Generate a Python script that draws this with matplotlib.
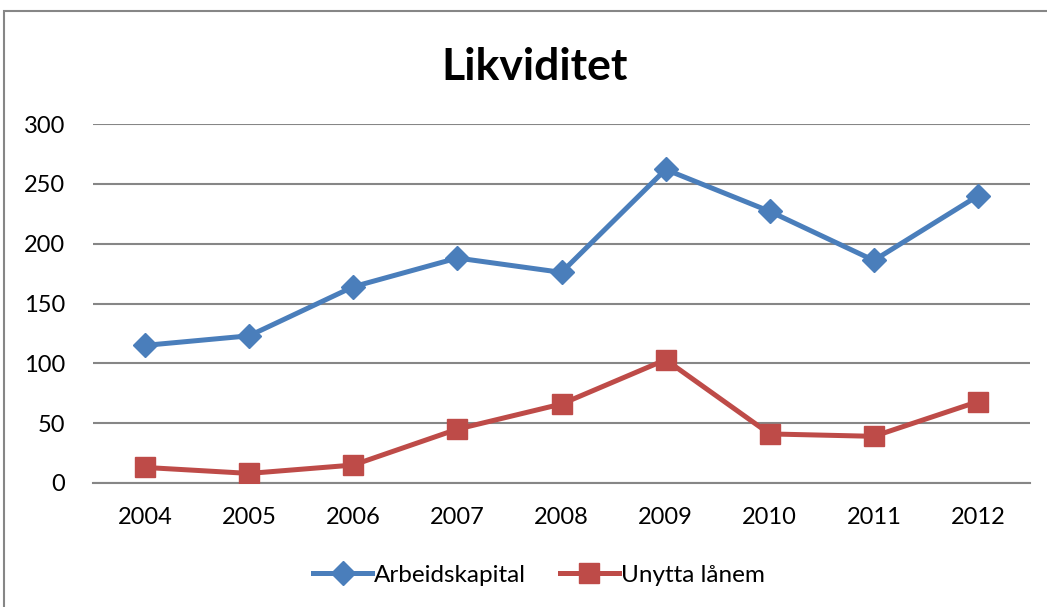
import matplotlib.pyplot as plt
from matplotlib.patches import Rectangle

years = ['2004', '2005', '2006', '2007', '2008', '2009', '2010', '2011', '2012']
arbeidskapital = [115, 123, 164, 188, 176, 262, 227, 186, 240]
unytta_lanem = [13, 8, 15, 45, 66, 103, 41, 39, 68]

plt.rcParams['font.family'] = ['Lato', 'DejaVu Sans']

fig = plt.figure(figsize=(10.47, 6.07), dpi=100)
ax = fig.add_axes([0.0888, 0.2043, 0.895, 0.5914])

# chart area border (Excel style)
fig.patches.append(Rectangle((4 / 1047, -0.1), 1.2, 1 - 11 / 607 + 0.1,
                             transform=fig.transFigure, fill=False,
                             edgecolor='#868686', linewidth=1.5))

x = list(range(len(years)))
ax.plot(x, arbeidskapital, color='#4A7EBB', linewidth=3.6, marker='D',
        markersize=12, label='Arbeidskapital', zorder=3)
ax.plot(x, unytta_lanem, color='#BE4B48', linewidth=3.6, marker='s',
        markersize=14, label='Unytta lånem', zorder=3)

ax.set_xlim(-0.5, len(years) - 0.5)
ax.set_ylim(0, 300)
ax.set_yticks(range(0, 301, 50))
ax.set_xticks(x)
ax.set_xticklabels(years)
ax.grid(axis='y', color='#868686', linewidth=1.5)
ax.set_axisbelow(True)
for s in ['top', 'right', 'left']:
    ax.spines[s].set_visible(False)
ax.spines['bottom'].set_color('#868686')
ax.spines['bottom'].set_linewidth(1.5)
ax.tick_params(axis='both', length=0, labelsize=17)
ax.tick_params(axis='y', pad=20)
ax.tick_params(axis='x', pad=17)

fig.text(0.511, 0.89, 'Likviditet', ha='center', va='center',
         fontsize=32, fontweight='bold')

fig.legend(loc='center', bbox_to_anchor=(0.515, 0.052), ncol=2, frameon=False,
           fontsize=17.5, handlelength=2.4, handletextpad=0.1, columnspacing=1.4)

fig.savefig('out.png', dpi=100)
